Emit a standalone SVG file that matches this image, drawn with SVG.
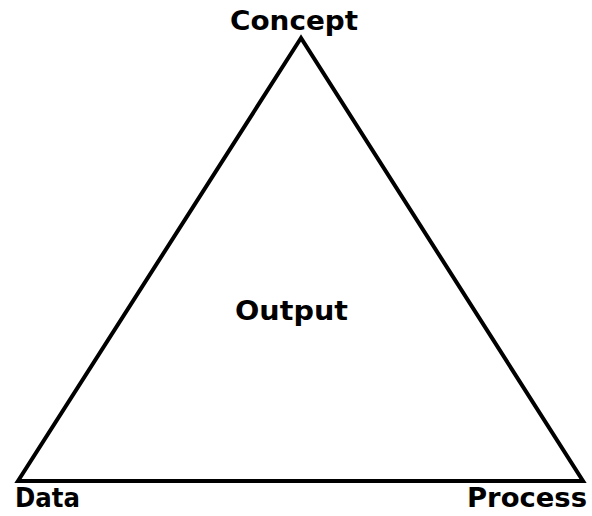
<svg xmlns="http://www.w3.org/2000/svg" width="592" height="516" viewBox="0 0 592 516">
  <style>
    .edge { fill: none; stroke: #000; stroke-width: 4; stroke-linejoin: miter; }
    .label { font-family: "DejaVu Sans", Verdana, sans-serif; font-weight: bold; font-size: 27px; fill: #000; }
  </style>
  <rect width="592" height="516" fill="#fff"/>
  <g id="connectors">
    <polygon class="edge" points="301,38 18,481 583,481"/>
  </g>
  <g id="concept">
    <text class="label" x="230" y="30" textLength="128" lengthAdjust="spacingAndGlyphs">Concept</text>
  </g>
  <g id="output">
    <text class="label" x="235" y="320" textLength="113" lengthAdjust="spacingAndGlyphs">Output</text>
  </g>
  <g id="data">
    <text class="label" x="15" y="507" textLength="65" lengthAdjust="spacingAndGlyphs">Data</text>
  </g>
  <g id="process">
    <text class="label" x="467" y="507" textLength="120" lengthAdjust="spacingAndGlyphs">Process</text>
  </g>
</svg>
